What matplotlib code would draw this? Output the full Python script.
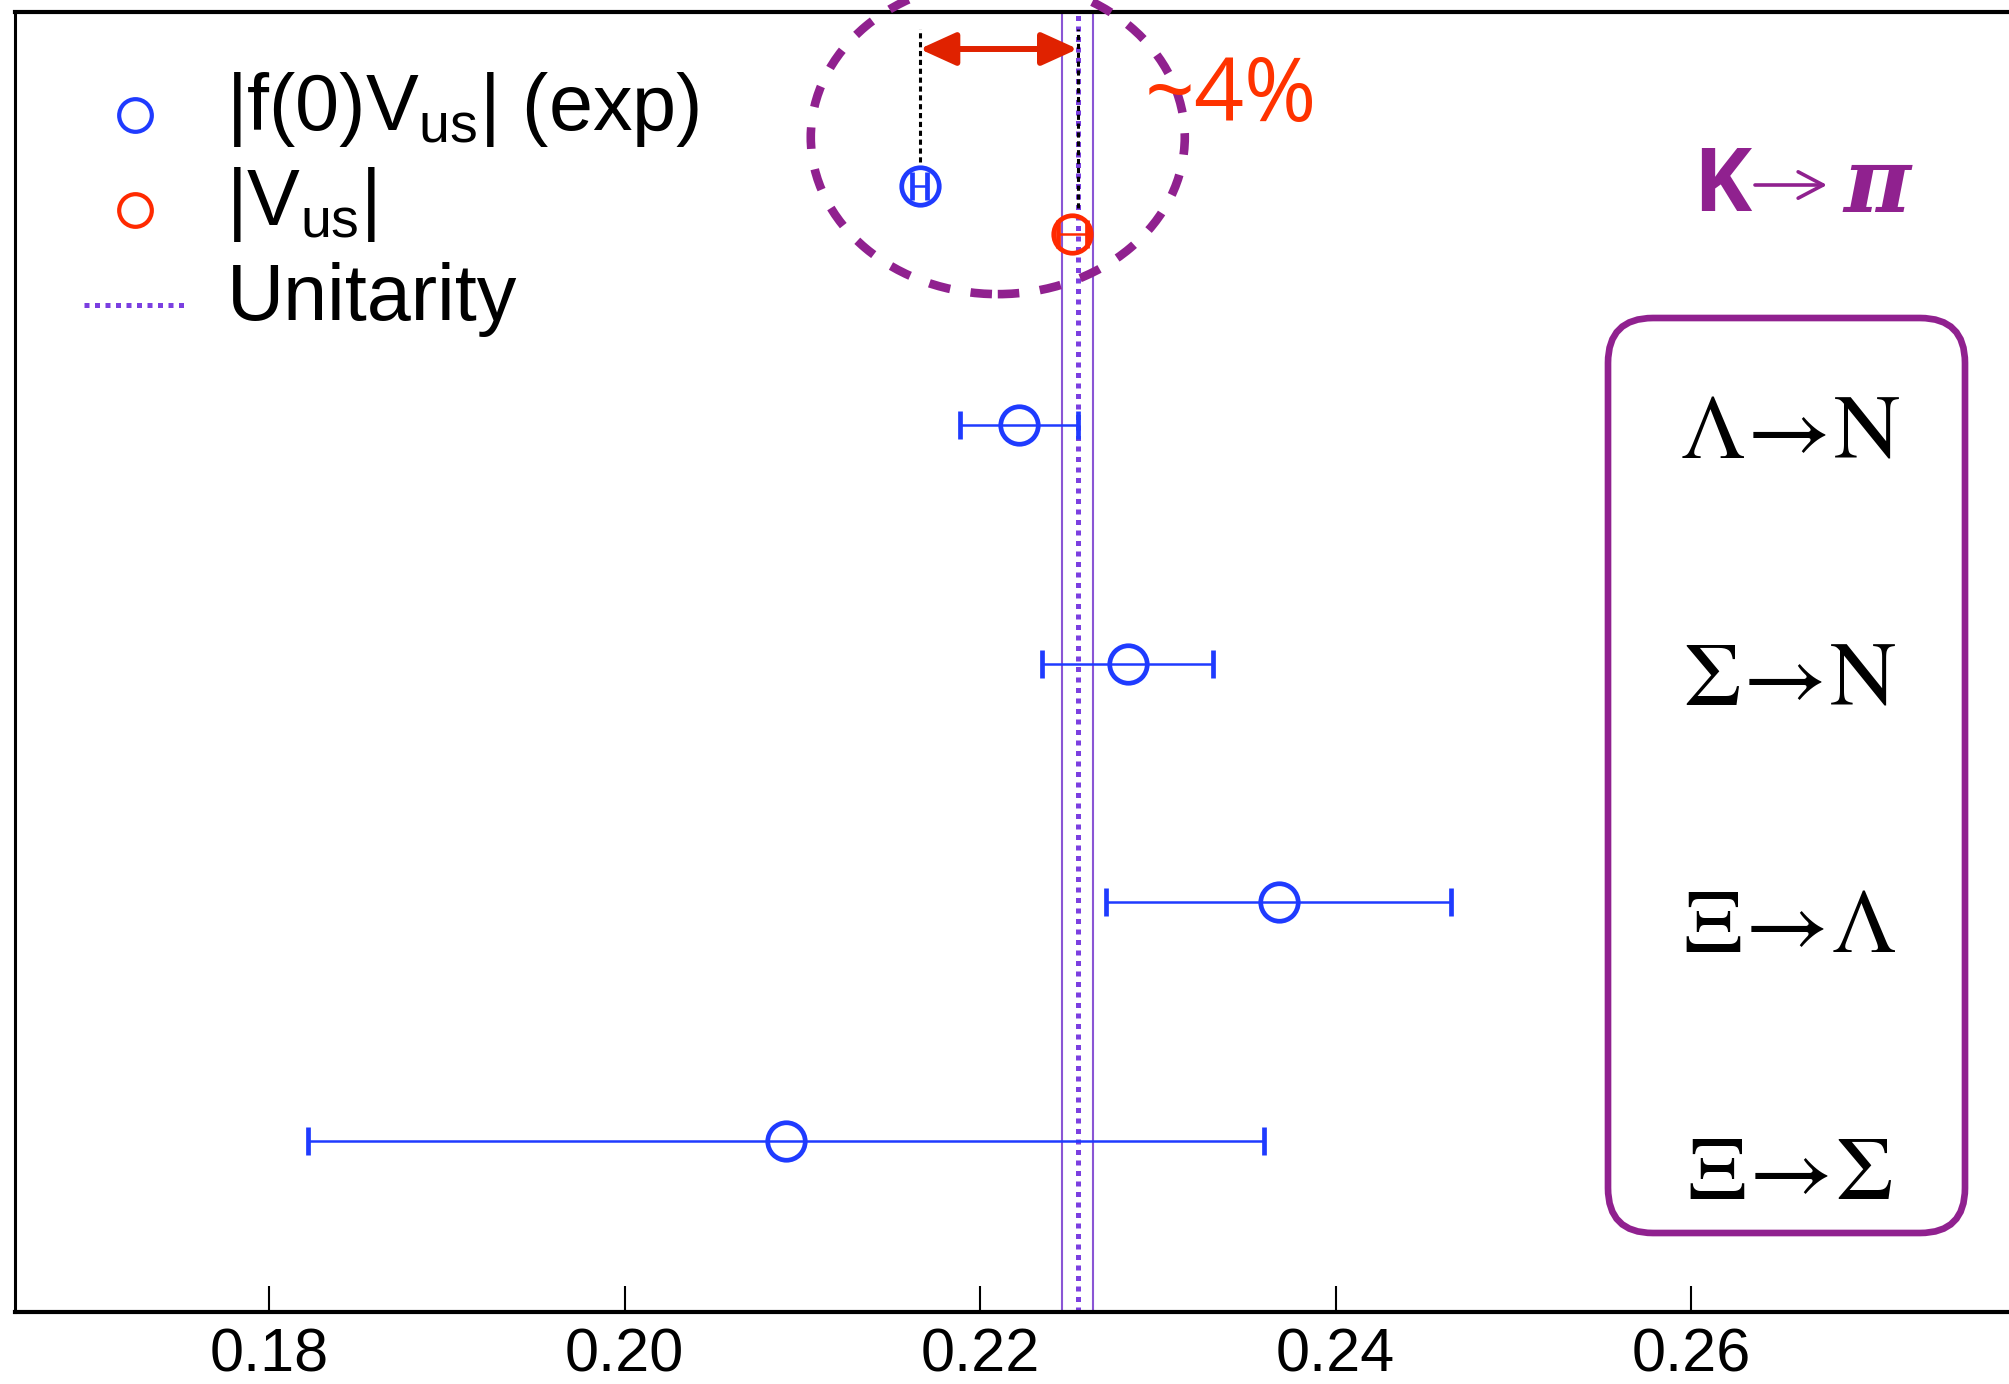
import matplotlib
matplotlib.use("Agg")
import matplotlib.pyplot as plt
import numpy as np
from matplotlib.lines import Line2D
from matplotlib.patches import Ellipse, FancyBboxPatch

plt.rcParams['font.family'] = ['Liberation Sans', 'DejaVu Sans']
plt.rcParams['mathtext.fontset'] = 'custom'
plt.rcParams['mathtext.rm'] = 'Liberation Sans'
plt.rcParams['mathtext.it'] = 'Liberation Sans:italic'
plt.rcParams['mathtext.bf'] = 'Liberation Sans:bold'

# hyperon decays: |f1(0) Vus| values
channels = [r'$\Lambda\!\rightarrow\!\mathrm{N}$', r'$\Sigma\!\rightarrow\!\mathrm{N}$',
            r'$\Xi\!\rightarrow\!\Lambda$', r'$\Xi\!\rightarrow\!\Sigma$']
row_y = [4, 3, 2, 1]
hyp_val = [0.2222, 0.2283, 0.2368, 0.2091]
hyp_err = [0.0033, 0.0048, 0.0097, 0.0269]

# K -> pi : |f(0)Vus| (exp) and |Vus|
kpi_y = [5.0, 4.8]
kpi_val = [0.2166, 0.2252]
kpi_err = [0.0004, 0.0008]

# unitarity value and band
unitarity = 0.2255
unitarity_band = 0.00088

xticks = [0.18, 0.20, 0.22, 0.24, 0.26]

blue = '#1F3BFF'
red = '#FF2A00'
purple = '#90218F'
violet = '#7B3FE0'

fig = plt.figure(figsize=(20.09, 13.84), dpi=100)
ax = fig.add_axes([15 / 2009, 72 / 1384, 1994 / 2009, 1300 / 1384])

# unitarity band + central value
ax.axvline(unitarity - unitarity_band, color='#8A55D5', lw=1.5, zorder=1)
ax.axvline(unitarity + unitarity_band, color='#8A55D5', lw=1.5, zorder=1)
ax.axvline(unitarity, color=violet, lw=3.6, ls=(0, (1.0, 1.1)), zorder=1)

# hyperon points
ax.errorbar(hyp_val, row_y, xerr=hyp_err, fmt='o', mfc='none', mec=blue,
            ms=27, mew=3.4, ecolor=blue, elinewidth=1.8, capsize=10, capthick=2.5, zorder=3)

# K->pi points
ax.errorbar(kpi_val[0], kpi_y[0], xerr=kpi_err[0], fmt='o', mfc='none', mec=blue,
            ms=27, mew=3.4, ecolor=blue, elinewidth=1.8, capsize=10, capthick=2.5, zorder=3)
ax.errorbar(kpi_val[1], kpi_y[1], xerr=kpi_err[1], fmt='o', mfc='none', mec=red,
            ms=27, mew=3.4, ecolor=red, elinewidth=1.8, capsize=10, capthick=2.5, zorder=3)

# black dashed guides + ~4% arrow
ax.vlines([kpi_val[0], unitarity], [kpi_y[0] + 0.1, kpi_y[1] + 0.11], 5.66,
          colors='k', lw=2.2, linestyles=[(0, (1.7, 1.2))], zorder=2)
ax.annotate('', xy=(unitarity, 5.575), xytext=(kpi_val[0], 5.575),
            arrowprops=dict(arrowstyle='<|-|>,head_length=2.2,head_width=1.0',
                            color='#E02200', lw=4.3, shrinkA=0, shrinkB=0,
                            mutation_scale=10), zorder=4)

# dashed purple ellipse around K->pi
ell = Ellipse((0.2210, 5.205), 0.02104, 1.314, fill=False, ec=purple, lw=6.2,
              ls=(0, (2.5, 2.4)), clip_on=False, zorder=4)
ax.add_patch(ell)

fig.text(1145 / 2009, 1 - 121 / 1384, '~4%', fontsize=63, color='#FF3300',
         family=['Open Sans', 'DejaVu Sans'], va='baseline', ha='left')

# legend
handles = [
    Line2D([], [], marker='o', ls='none', mfc='none', mec=blue, ms=23.5, mew=3),
    Line2D([], [], marker='o', ls='none', mfc='none', mec=red, ms=23.5, mew=3),
    Line2D([], [], color=violet, lw=3.6, ls=(0, (1.0, 1.1))),
]
labels = [r'|f(0)V$_\mathregular{us}$| (exp)', r'|V$_\mathregular{us}$|', 'Unitarity']
leg = ax.legend(handles, labels, loc='upper left', bbox_to_anchor=(84 / 2009, 1 - 63 / 1384),
                bbox_transform=fig.transFigure, frameon=False, fontsize=57,
                handlelength=1.3, handleheight=1.19, handletextpad=0.5, labelspacing=0.11,
                borderpad=0, borderaxespad=0)
# sit the legend symbols a bit lower, closer to the text middle
for h in leg.legend_handles:
    h.set_ydata(np.asarray(h.get_ydata()) - 13.5)

# K -> pi title
fig.text(1693 / 2009, 1 - 211 / 1384, 'K', fontsize=63, weight='bold', color=purple,
         family=['Open Sans', 'DejaVu Sans'], va='baseline', ha='left')
ax.annotate('', xy=(1827 / 2009, 1 - 185 / 1384), xytext=(1755 / 2009, 1 - 185 / 1384),
            xycoords='figure fraction', textcoords='figure fraction',
            arrowprops=dict(arrowstyle='->,head_length=1.8,head_width=0.95', color=purple,
                            lw=2.6, mutation_scale=10, shrinkA=0, shrinkB=0))
fig.text(1843 / 2009, 1 - 212 / 1384, 'π', fontsize=66, weight='bold', style='italic',
         color=purple, family=['DejaVu Serif'], va='baseline', ha='left')

# channel box
box = FancyBboxPatch((16.08, 1.51), 3.57, 9.15, boxstyle='round,pad=0,rounding_size=0.45',
                     transform=fig.dpi_scale_trans, fill=False, ec=purple, lw=4.8)
fig.add_artist(box)
label_baselines = [457, 705, 952, 1199]
for lab, yb in zip(channels, label_baselines):
    fig.text(1790 / 2009, 1 - yb / 1384, lab, fontsize=66, ha='center', va='baseline',
             math_fontfamily='stix')

# axes
ax.set_xlim(0.16571, 0.27789)
ax.set_ylim(0.2836, 5.730)
ax.set_xticks(xticks)
ax.set_xticklabels([f'{t:.2f}' for t in xticks])
ax.set_yticks([])
ax.tick_params(axis='x', direction='in', length=19, width=1.5, labelsize=44, pad=11)
ax.spines['right'].set_visible(False)
ax.spines['top'].set_linewidth(3)
ax.spines['bottom'].set_linewidth(3)
ax.spines['left'].set_linewidth(2.2)

fig.savefig('out.png', dpi=100)
